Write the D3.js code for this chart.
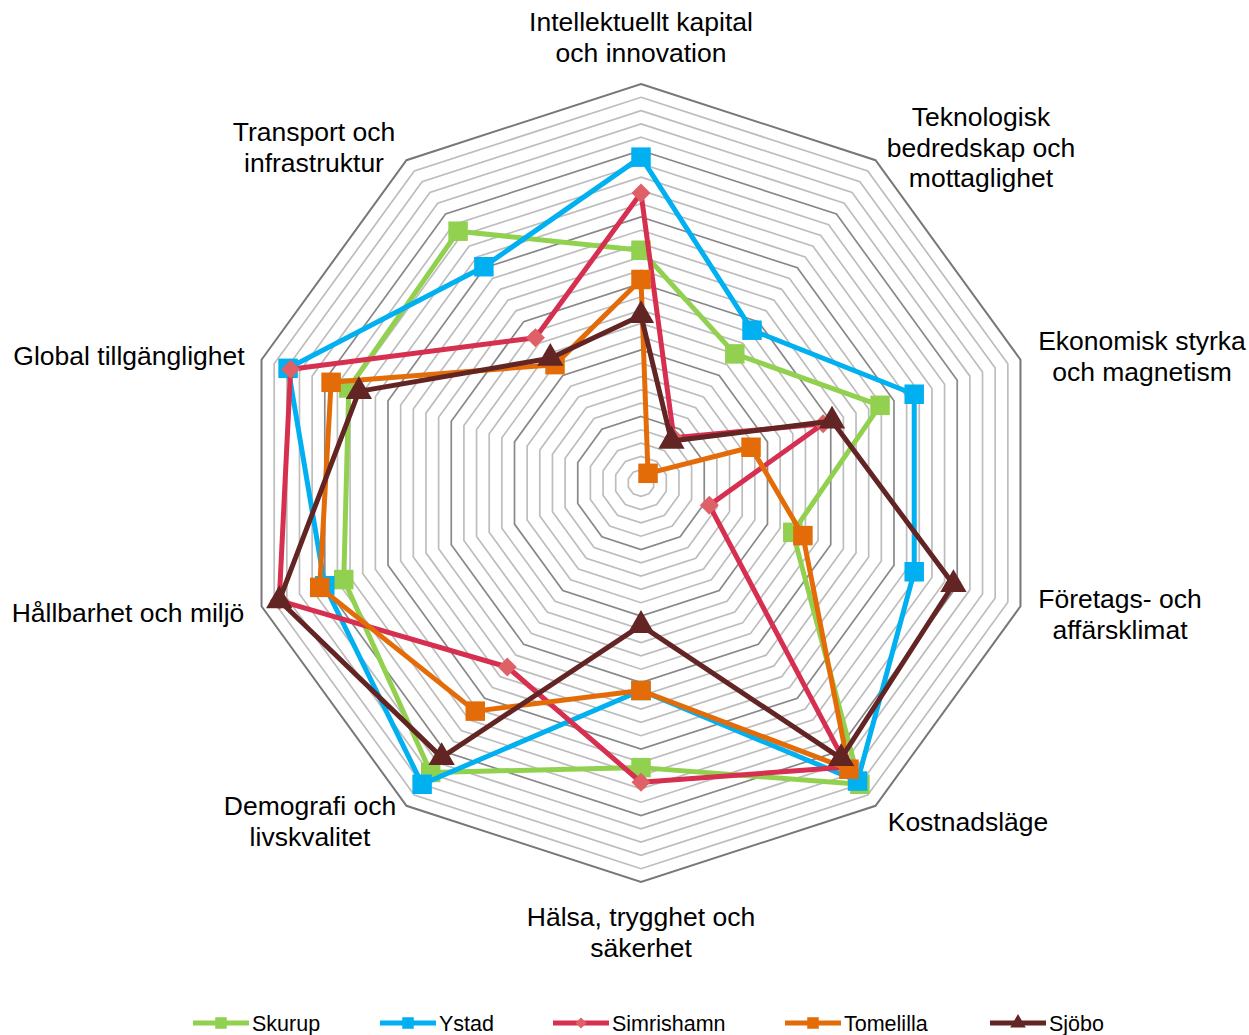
<!DOCTYPE html>
<html>
<head>
<meta charset="utf-8">
<script src="https://cdn.jsdelivr.net/npm/d3@7"></script>
<style>
  body { margin: 0; background: #fff; }
  svg { font-family: Arial, "Liberation Sans", sans-serif; }
</style>
</head>
<body>
<div id="chart"></div>
<script>
// axis labels, clockwise from the top
var categories = [
  ["Intellektuellt kapital", "och innovation"],
  ["Teknologisk", "bedredskap och", "mottaglighet"],
  ["Ekonomisk styrka", "och magnetism"],
  ["Företags- och", "affärsklimat"],
  ["Kostnadsläge"],
  ["Hälsa, trygghet och", "säkerhet"],
  ["Demografi och", "livskvalitet"],
  ["Hållbarhet och miljö"],
  ["Global tillgänglighet"],
  ["Transport och", "infrastruktur"]
];

var seriesNames = ["Skurup", "Ystad", "Simrishamn", "Tomelilla", "Sjöbo"];

var skurup     = [17.5, 12.0, 18.9, 12.0, 28.0, 21.4, 26.9, 23.5, 23.1, 23.4];
var ystad      = [24.5, 14.2, 21.6, 21.6, 27.7, 15.6, 28.0, 25.0, 27.9, 20.1];
var simrishamn = [21.8,  4.2, 14.4,  5.4, 26.4, 22.5, 17.1, 28.6, 27.7, 13.5];
var tomelilla  = [15.3,  0.9,  8.7, 12.8, 26.6, 15.6, 21.2, 25.4, 24.5, 11.0];
var sjobo      = [12.6,  3.9, 15.1, 24.7, 25.6, 10.7, 25.5, 28.6, 22.3, 11.6];

var maxValue = 30;
var ringStep = 1;

var width = 1249, height = 1035;
var cx = 641, cy = 483, radius = 399;

var colors = ["#92d050", "#00b0f0", "#d62f50", "#e36c09", "#632523"];
var markerFill = ["#92d050", "#00b0f0", "#e06068", "#e36c09", "#632523"];
var shapes = [d3.symbolSquare, d3.symbolSquare, d3.symbolDiamond2, d3.symbolSquare, d3.symbolTriangle];
var sizes = [380, 380, 230, 380, 300];

var allSeries = [skurup, ystad, simrishamn, tomelilla, sjobo];

var svg = d3.select("#chart").append("svg")
  .attr("width", width)
  .attr("height", height);

var n = categories.length;
var angle = d3.scaleLinear().domain([0, n]).range([0, 2 * Math.PI]);
var r = d3.scaleLinear().domain([0, maxValue]).range([0, radius]);

function px(i, v) { return cx + r(v) * Math.sin(angle(i)); }
function py(i, v) { return cy - r(v) * Math.cos(angle(i)); }

// grid rings
var rings = d3.range(ringStep, maxValue + 0.001, ringStep);
var grid = svg.append("g");
rings.forEach(function(v) {
  var pts = d3.range(n).map(function(i) { return [px(i, v), py(i, v)]; });
  var major = Math.round(v) % 5 === 0;
  grid.append("polygon")
    .attr("points", pts.map(function(p) { return p.join(","); }).join(" "))
    .attr("fill", "none")
    .attr("stroke", v === maxValue ? "#777" : (major ? "#888" : "#bdbdbd"))
    .attr("stroke-width", v === maxValue ? 2 : 1.7);
});

// axis labels
var labelPos = [
  [641, 22], [981, 117], [1142, 341], [1120, 599], [968, 822],
  [641, 917], [310, 806], [128, 613], [129, 356], [314, 132]
];
categories.forEach(function(lines, i) {
  var t = svg.append("text")
    .attr("text-anchor", "middle")
    .attr("font-size", "26.5px")
    .attr("fill", "#000");
  lines.forEach(function(s, k) {
    t.append("tspan")
      .attr("x", labelPos[i][0])
      .attr("y", labelPos[i][1] + k * 30.5)
      .attr("dy", "0.35em")
      .text(s);
  });
});

// series
var line = d3.line();
allSeries.forEach(function(vals, s) {
  var pts = vals.map(function(v, i) { return [px(i, v), py(i, v)]; });
  var g = svg.append("g");
  g.append("path")
    .attr("d", line(pts) + "Z")
    .attr("fill", "none")
    .attr("stroke", colors[s])
    .attr("stroke-width", 5)
    .attr("stroke-linejoin", "round");
  g.selectAll("path.m")
    .data(pts)
    .enter()
    .append("path")
    .attr("class", "m")
    .attr("transform", function(d) { return "translate(" + d[0] + "," + d[1] + ")"; })
    .attr("d", d3.symbol().type(shapes[s]).size(sizes[s]))
    .attr("fill", markerFill[s]);
});

// legend
var legendX = [193, 380, 553, 785, 990];
var legend = svg.append("g");
seriesNames.forEach(function(name, s) {
  var x = legendX[s], y = 1023;
  legend.append("line")
    .attr("x1", x).attr("x2", x + 56)
    .attr("y1", y).attr("y2", y)
    .attr("stroke", colors[s])
    .attr("stroke-width", 5);
  legend.append("path")
    .attr("transform", "translate(" + (x + 28) + "," + y + ")")
    .attr("d", d3.symbol().type(shapes[s]).size(sizes[s] * 0.35))
    .attr("fill", markerFill[s]);
  legend.append("text")
    .attr("x", x + 59)
    .attr("y", y)
    .attr("dy", "0.35em")
    .attr("font-size", "21.5px")
    .text(name);
});
</script>
</body>
</html>
